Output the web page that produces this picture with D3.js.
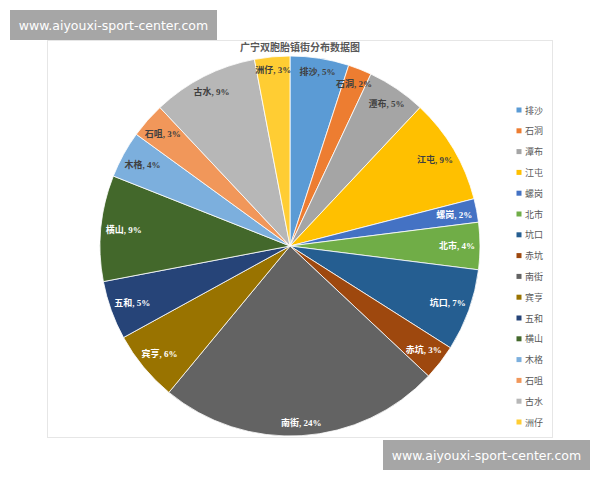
<!DOCTYPE html>
<html>
<head>
<meta charset="utf-8">
<script src="https://cdn.jsdelivr.net/npm/d3@7"></script>
<style>
  body { margin: 0; background: #fff; }
  #container { width: 600px; height: 480px; }
</style>
</head>
<body>
<div id="container"></div>
<script>
// Chart data, clockwise from 12 o'clock.
const names = ["排沙", "石洞", "潭布", "江屯", "螺岗", "北市", "坑口", "赤坑",
  "南街", "宾亨", "五和", "横山", "木格", "石咀", "古水", "洲仔"];
const shares = [5, 2, 5, 9, 2, 4, 7, 3, 24, 6, 5, 9, 4, 3, 9, 3];
const colors = ["#5b9bd5", "#ed7d31", "#a5a5a5", "#ffc000", "#4472c4", "#70ad47",
  "#255e91", "#9e480e", "#636363", "#997300", "#264478", "#43682b",
  "#7cafdd", "#f1975a", "#b7b7b7", "#ffcd33"];
const darkText = ["排沙", "石洞", "潭布", "江屯", "木格", "石咀", "古水", "洲仔"];
const title = "广宁双胞胎镇街分布数据图";
const watermark = "www.aiyouxi-sport-center.com";

const width = 600;
const height = 480;
const cx = 290;
const cy = 246;
const radius = 190;

const svg = d3.select("#container").append("svg")
  .attr("width", width)
  .attr("height", height);

// Chart frame
svg.append("rect")
  .attr("x", 47.5).attr("y", 40.5)
  .attr("width", 505).attr("height", 397)
  .attr("fill", "#fff")
  .attr("stroke", "#e6e6e6");

svg.append("text")
  .attr("x", 300).attr("y", 51)
  .attr("text-anchor", "middle")
  .attr("font-family", "'Noto Sans CJK SC'")
  .attr("font-size", 10)
  .attr("font-weight", "bold")
  .attr("fill", "#595959")
  .text(title);

const data = names.map((n, i) => ({ name: n, value: shares[i], color: colors[i] }));

const pie = d3.pie().sort(null).value(d => d.value);
const arc = d3.arc().innerRadius(0).outerRadius(radius);
const arcs = pie(data);

const g = svg.append("g").attr("transform", `translate(${cx},${cy})`);

g.selectAll("path")
  .data(arcs)
  .join("path")
  .attr("d", arc)
  .attr("fill", d => d.data.color)
  .attr("stroke", "#fff")
  .attr("stroke-width", 0.8);

// labels near the outer edge ("inside end")
g.selectAll("text.lbl")
  .data(arcs)
  .join("text")
  .attr("class", "lbl")
  .attr("transform", d => {
    const a = (d.startAngle + d.endAngle) / 2;
    const rr = radius - 12 - 11 * Math.abs(Math.sin(a));
    return `translate(${Math.sin(a) * rr},${-Math.cos(a) * rr + 3})`;
  })
  .attr("text-anchor", "middle")
  .attr("font-family", "'Liberation Serif', 'Noto Sans CJK SC'")
  .attr("font-size", 9)
  .attr("font-weight", "bold")
  .attr("fill", d => darkText.includes(d.data.name) ? "#404040" : "#fff")
  .text(d => `${d.data.name}, ${d.data.value}%`);

// Legend
const legend = svg.append("g");
const ly = d3.scalePoint().domain(names).range([110, 422]);
const item = legend.selectAll("g")
  .data(data)
  .join("g")
  .attr("transform", d => `translate(519,${ly(d.name)})`);
item.append("rect")
  .attr("x", -2.5).attr("y", -2.5)
  .attr("width", 5).attr("height", 5)
  .attr("fill", d => d.color);
item.append("text")
  .attr("x", 6).attr("y", 3.5)
  .attr("font-family", "'Noto Sans CJK SC'")
  .attr("font-size", 9)
  .attr("fill", "#595959")
  .text(d => d.name);

// Watermarks
function mark(x, y) {
  svg.append("rect")
    .attr("x", x).attr("y", y)
    .attr("width", 207).attr("height", 30)
    .attr("fill", "#a6a6a6");
  svg.append("text")
    .attr("x", x + 103.5).attr("y", y + 19.5)
    .attr("text-anchor", "middle")
    .attr("font-family", "'DejaVu Sans'")
    .attr("font-size", 12.5)
    .attr("fill", "#fff")
    .text(watermark);
}
mark(10, 10);
mark(383, 440);
</script>
</body>
</html>
